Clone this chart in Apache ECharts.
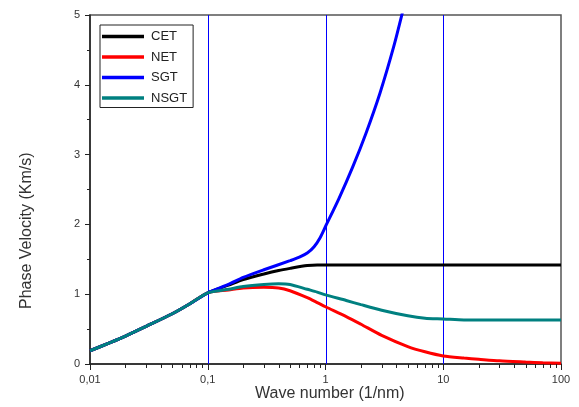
<!DOCTYPE html>
<html>
<head>
<meta charset="utf-8">
<script src="https://cdn.jsdelivr.net/npm/echarts@6/dist/echarts.min.js"></script>
<style>
  html, body { margin: 0; padding: 0; background: #fff; }
  #chart { width: 579px; height: 407px; }
</style>
</head>
<body>
<div id="chart"></div>
<script>
// Wave numbers (1/nm) shared by CET, NET and NSGT
var waveNumber = [0.01, 0.015, 0.02, 0.03, 0.05, 0.07, 0.1, 0.15, 0.2, 0.3, 0.4, 0.5, 0.7, 0.85, 1, 1.5, 2, 3, 5, 7, 10, 15, 20, 30, 50, 70, 100];
// Phase velocity (Km/s) for each theory
var cet  = [0.19, 0.31, 0.40, 0.54, 0.72, 0.86, 1.02, 1.13, 1.21, 1.29, 1.34, 1.37, 1.41, 1.42, 1.42, 1.42, 1.42, 1.42, 1.42, 1.42, 1.42, 1.42, 1.42, 1.42, 1.42, 1.42, 1.42];
var net  = [0.19, 0.31, 0.40, 0.54, 0.72, 0.86, 1.02, 1.06, 1.09, 1.10, 1.09, 1.05, 0.95, 0.88, 0.82, 0.68, 0.57, 0.41, 0.25, 0.175, 0.115, 0.085, 0.068, 0.045, 0.028, 0.018, 0.01];
var nsgt = [0.19, 0.31, 0.40, 0.54, 0.72, 0.86, 1.02, 1.07, 1.11, 1.14, 1.15, 1.14, 1.07, 1.03, 0.99, 0.91, 0.85, 0.77, 0.69, 0.655, 0.645, 0.63, 0.63, 0.63, 0.63, 0.63, 0.63];
// SGT rises out of the plot, so it has its own wave numbers
var sgtWaveNumber = [0.01, 0.015, 0.02, 0.03, 0.05, 0.07, 0.1, 0.15, 0.2, 0.3, 0.5, 0.6, 0.7, 0.8, 0.9, 1, 1.3, 1.7, 2.2, 2.9, 3.8, 4.6];
var sgt  = [0.19, 0.31, 0.40, 0.54, 0.72, 0.86, 1.02, 1.14, 1.24, 1.35, 1.48, 1.53, 1.59, 1.68, 1.81, 1.97, 2.37, 2.82, 3.30, 3.88, 4.55, 5.10];

var xTicks = [0.01, 0.1, 1, 10, 100];
var xMinorTicks = [];
xTicks.slice(0, -1).forEach(function (d) {
  for (var m = 2; m <= 9; m++) xMinorTicks.push(+(d * m).toPrecision(6));
});
// Reference lines at decade boundaries
var markers = [0.1, 1, 10];

var seriesNames = ['CET', 'NET', 'SGT', 'NSGT'];
var seriesColors = ['#000000', '#ff0000', '#0000ff', '#008080'];

function pairs(xs, ys) { return xs.map(function (x, i) { return [x, ys[i]]; }); }

var FONT = '"Liberation Sans", Arial, sans-serif';
var chart = echarts.init(document.getElementById('chart'), null, { renderer: 'canvas' });

var dataSets = [pairs(waveNumber, cet), pairs(waveNumber, net), pairs(sgtWaveNumber, sgt), pairs(waveNumber, nsgt)];

var series = [];
// vertical blue guide lines
series.push({
  type: 'custom', silent: true, z: 1, clip: true,
  data: markers.map(function (v) { return [v]; }),
  encode: { x: 0 },
  renderItem: function (params, api) {
    var top = api.coord([api.value(0), 5]);
    var bottom = api.coord([api.value(0), 0]);
    var x = Math.round(top[0]) + 0.5;
    return {
      type: 'line',
      shape: { x1: x, y1: top[1], x2: x, y2: bottom[1] },
      style: { stroke: '#0000ff', lineWidth: 1 }
    };
  }
});
// logarithmic minor ticks under the x axis
series.push({
  type: 'custom', silent: true, z: 10, clip: false,
  data: xMinorTicks.map(function (v) { return [v]; }),
  encode: { x: 0 },
  renderItem: function (params, api) {
    var p = api.coord([api.value(0), 0]);
    var x = Math.round(p[0]) + 0.5;
    return {
      type: 'line',
      shape: { x1: x, y1: p[1], x2: x, y2: p[1] + 4 },
      style: { stroke: '#222', lineWidth: 1 }
    };
  }
});
seriesNames.forEach(function (n, i) {
  series.push({
    name: n, type: 'line', data: dataSets[i], smooth: 0.25,
    showSymbol: false, symbol: 'none', z: 2 + i,
    lineStyle: { color: seriesColors[i], width: 3 },
    itemStyle: { color: seriesColors[i] }
  });
});

chart.setOption({
  animation: false,
  backgroundColor: '#ffffff',
  grid: { left: 90, right: 18, top: 15, bottom: 43, show: true, borderColor: '#555', borderWidth: 1.5, backgroundColor: 'transparent' },
  legend: {
    left: 100, top: 25, orient: 'vertical',
    data: seriesNames,
    icon: 'rect', itemWidth: 42, itemHeight: 3.5, itemGap: 7.5,
    padding: [5, 6, 3, 2],
    borderColor: '#222', borderWidth: 1,
    textStyle: { fontFamily: FONT, fontSize: 13, color: '#222', padding: [0, 0, 0, 2] }
  },
  xAxis: {
    type: 'log', logBase: 10, min: 0.01, max: 100,
    axisLine: { show: true, onZero: false, lineStyle: { color: '#222', width: 1.5 } },
    axisTick: { show: true, length: 6, inside: false, lineStyle: { color: '#222', width: 1 } },
    axisLabel: {
      fontFamily: FONT, fontSize: 11, color: '#333', margin: 10,
      formatter: function (v) { return String(+v.toPrecision(6)).replace('.', ','); }
    },
    splitLine: { show: false }
  },
  yAxis: {
    type: 'value', min: 0, max: 5, interval: 1,
    axisLine: { show: true, onZero: false, lineStyle: { color: '#222', width: 1.5 } },
    axisTick: { show: true, length: 5, lineStyle: { color: '#222', width: 1 } },
    minorTick: { show: true, splitNumber: 2, length: 3, lineStyle: { color: '#222', width: 1 } },
    axisLabel: { fontFamily: FONT, fontSize: 11, color: '#333', margin: 10 },
    splitLine: { show: false }
  },
  graphic: [{
    type: 'text', left: 255, top: 386,
    style: { text: 'Wave number (1/nm)', font: '16px ' + FONT, fill: '#333' }
  }, {
    type: 'text', x: 19, y: 309, rotation: Math.PI / 2,
    style: { text: 'Phase Velocity (Km/s)', font: '16px ' + FONT, fill: '#333', textAlign: 'left', textVerticalAlign: 'top' }
  }],
  series: series
});
</script>
</body>
</html>
